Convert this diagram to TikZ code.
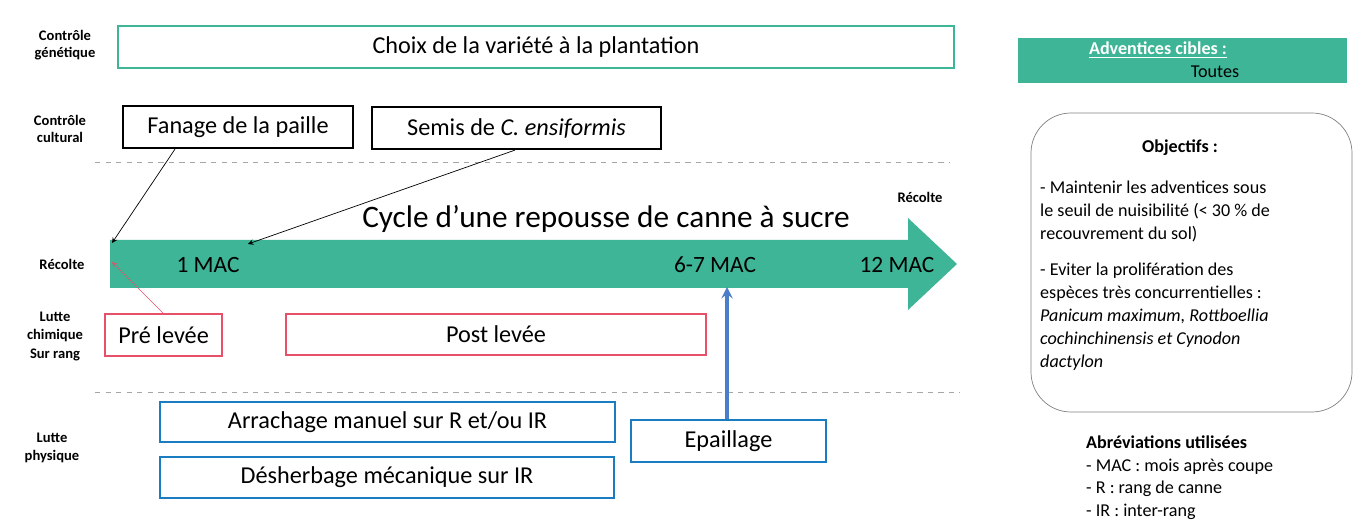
\documentclass[tikz,border=0pt]{standalone}
\usepackage{fontspec}
\setmainfont{Carlito}
\usepackage{xcolor}
\definecolor{vert}{HTML}{3DB596}
\definecolor{rose}{HTML}{E8506A}
\definecolor{bleu}{HTML}{1A7CC1}
\definecolor{bleuf}{HTML}{4A7EC8}
\tikzset{
  boite/.style={draw,line width=1.2pt,minimum height=0.84cm,anchor=north west,font=\fontsize{13.8}{15}\selectfont},
  etiq/.style={font=\bfseries\fontsize{8.3}{9.8}\selectfont,align=center},
  petit/.style={font=\fontsize{10.3}{13}\selectfont,align=left,anchor=north west}
}
\begin{document}
\begin{tikzpicture}[x=0.02cm,y=-0.02cm]
\useasboundingbox[fill=white] (0,0) rectangle (1366,530);
% lignes
\draw[gray!70,dashed] (95,162) -- (950,162);
\draw[gray!70,dashed] (95,392) -- (960,392);
% fleche du cycle
\fill[vert] (110,240) -- (908,240) -- (908,218) -- (957,264) -- (908,310) -- (908,288) -- (110,288) -- cycle;
\node (cycle) at (606,219) {\fontsize{17.8}{20}\selectfont Cycle d’une repousse de canne à sucre};
\node (mac1) at (208,265) {\fontsize{13.3}{15}\selectfont 1 MAC};
\node (mac6) at (715,265) {\fontsize{13.3}{15}\selectfont 6-7 MAC};
\node (mac12) at (897,265) {\fontsize{13.3}{15}\selectfont 12 MAC};
\node[etiq] (recfin) at (920,197) {Récolte};
\coordinate (debut) at (112,243);
\coordinate (debutb) at (112,262);
\coordinate (mac1g) at (248,244);
\coordinate (mac6b) at (727,287);
% etiquettes a gauche
\node[etiq] (gen) at (65,45) {Contrôle\\génétique};
\node[etiq] (cult) at (60,129) {Contrôle\\cultural};
\node[etiq] (rec) at (62,264) {Récolte};
\node[etiq] (chim) at (55,327) {Lutte\\chimique};
\node[etiq] (rang) at (55,355) {Sur rang};
\node[etiq] (phys) at (52,448) {Lutte\\physique};
% boites
\node[boite,draw=vert,minimum width=16.72cm] (choix) at (117,25) {Choix de la variété à la plantation};
\node[boite,draw=black,minimum width=4.6cm] (fanage) at (122,105) {Fanage de la paille};
\node[boite,draw=black,minimum width=5.78cm] (semis) at (371,106) {Semis de \textit{C. ensiformis}};
\node[boite,draw=rose,minimum width=2.34cm] (pre) at (104,313) {Pré levée};
\node[boite,draw=rose,minimum width=8.4cm,minimum height=0.82cm] (post) at (285,313) {Post levée};
\node[boite,draw=bleu,minimum width=9.1cm,minimum height=0.8cm] (arrach) at (159,401) {Arrachage manuel sur R et/ou IR};
\node[boite,draw=bleu,minimum width=9.08cm,minimum height=0.82cm] (desherb) at (159,456) {Désherbage mécanique sur IR};
\node[boite,draw=bleu,minimum width=3.9cm] (epaill) at (630,419) {Epaillage};
% connecteurs
\draw[-stealth] (fanage.south -| 175,0) -- (debut);
\draw[-stealth] (semis.south -| 515,0) -- (mac1g);
\draw[-stealth,rose] (pre.north -| 163,0) -- (debutb);
\draw[-stealth,bleuf,line width=1.8pt] (epaill.north -| 727,0) -- (mac6b);
% panneau de droite
\fill[vert] (1018,38) rectangle (1347,83);
\node[font=\bfseries\fontsize{10.3}{11}\selectfont,text=white] (cibles) at (1158,50) {\underline{Adventices cibles :}};
\node[font=\fontsize{10.3}{11}\selectfont] (toutes) at (1215,72) {Toutes};
\draw[gray,rounded corners=0.8cm] (1031,113) rectangle (1352,412);
\node[font=\bfseries\fontsize{10.3}{11}\selectfont] (obj) at (1180,148) {Objectifs :};
\node[petit] (obj1) at (1034,175) {- Maintenir les adventices sous\\le seuil de nuisibilité (< 30 \% de\\recouvrement du sol)\\[0.75em]
- Eviter la prolifération des\\espèces très concurrentielles :\\\textit{Panicum maximum, Rottboellia}\\\textit{cochinchinensis et Cynodon}\\\textit{dactylon}};
\node[petit,font=\fontsize{10.3}{12.8}\selectfont] (abrev) at (1080,430) {\textbf{Abréviations utilisées}\\- MAC : mois après coupe\\- R : rang de canne\\- IR : inter-rang};
\end{tikzpicture}
\end{document}
